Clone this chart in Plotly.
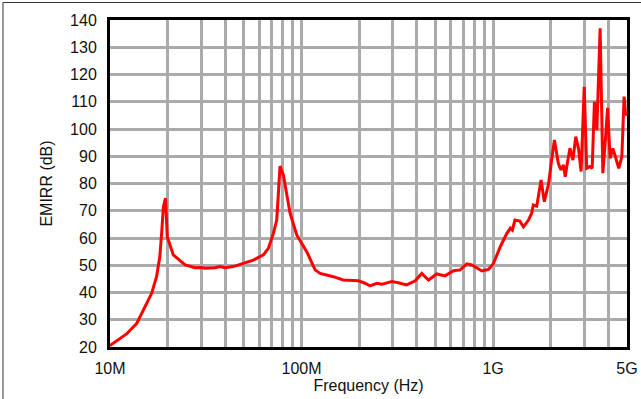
import plotly.graph_objects as go
import math

freq_hz = [10e6, 11.05e6, 12.2e6, 13.8e6, 15.2e6, 16.5e6, 17.5e6, 18.2e6, 18.6e6, 19.0e6,
           19.5e6, 19.9e6, 21.4e6, 24.7e6, 27.8e6, 30.1e6, 31.3e6, 35.3e6, 37.5e6, 39.8e6,
           44e6, 49.7e6, 56e6, 63.2e6, 67.1e6, 71.3e6, 74.2e6, 75.7e6, 77.2e6, 80.4e6,
           83.7e6, 87.1e6, 94.4e6, 106.4e6, 117.7e6, 125e6, 146.7e6, 165e6, 198e6, 214.6e6,
           228e6, 247e6, 262e6, 296e6, 320e6, 354e6, 392e6, 424e6, 460e6, 508e6,
           561e6, 621e6, 673e6, 729e6, 774e6, 874e6, 946e6, 1.005e9, 1.09e9, 1.18e9,
           1.23e9, 1.26e9, 1.30e9, 1.38e9, 1.44e9, 1.53e9, 1.59e9, 1.62e9, 1.69e9, 1.78e9,
           1.85e9, 1.95e9, 2.02e9, 2.09e9, 2.19e9, 2.26e9, 2.33e9, 2.38e9, 2.44e9, 2.52e9,
           2.61e9, 2.70e9, 2.79e9, 2.88e9, 2.99e9, 3.08e9, 3.19e9, 3.29e9, 3.38e9, 3.48e9,
           3.62e9, 3.74e9, 3.85e9, 3.96e9, 4.08e9, 4.22e9, 4.35e9, 4.53e9, 4.70e9, 4.83e9,
           4.91e9, 5.0e9]

emirr_db = [20.5, 22.6, 24.8, 28.7, 34.8, 39.7, 45.8, 53.1, 61.7, 71.5,
            74.6, 60.5, 53.8, 50.1, 49.1, 49.2, 48.9, 49.1, 49.5, 49.1,
            49.5, 50.7, 51.9, 53.8, 56.2, 61.7, 66.6, 76.4, 86.4, 83.1,
            76.4, 69.1, 61.1, 55.0, 48.3, 47.0, 45.8, 44.6, 44.3, 43.4,
            42.4, 43.4, 43.0, 44.0, 43.6, 42.8, 44.3, 47.0, 44.6, 46.8,
            46.1, 48.0, 48.3, 50.5, 50.1, 47.9, 48.5, 50.7, 56.8, 61.7,
            63.6, 62.9, 66.6, 66.2, 64.1, 66.6, 69.1, 72.1, 71.7, 81.3,
            73.3, 80.1, 88.6, 96.0, 87.4, 85.0, 86.8, 82.5, 87.4, 92.9,
            88.6, 97.2, 92.9, 84.4, 115.5, 85.6, 86.2, 85.6, 110.0, 99.6,
            137.0, 83.8, 95.3, 107.8, 89.2, 92.9, 89.8, 85.6, 89.8, 111.9,
            105.7, 105.0]

grid_vals = [10e6, 20e6, 30e6, 40e6, 50e6, 60e6, 70e6, 80e6, 90e6,
             100e6, 200e6, 300e6, 400e6, 500e6, 600e6, 700e6, 800e6, 900e6,
             1e9, 2e9, 3e9, 4e9, 5e9]
grid_text = ["10M", "", "", "", "", "", "", "", "",
             "100M", "", "", "", "", "", "", "", "",
             "1G", "", "", "", "5G"]

y_ticks = [20, 30, 40, 50, 60, 70, 80, 90, 100, 110, 120, 130, 140]

fig = go.Figure()
fig.add_trace(go.Scatter(x=freq_hz, y=emirr_db, mode="lines",
                         line=dict(color="#ff0000", width=3), showlegend=False))

font_family = "Liberation Sans, Arial, sans-serif"
fig.update_layout(
    width=641, height=399,
    margin=dict(l=110, r=14, t=20, b=52),
    paper_bgcolor="white", plot_bgcolor="white",
    font=dict(family=font_family, size=16, color="#111111"),
    xaxis=dict(type="log", range=[7, math.log10(5e9)], automargin=False,
               tickmode="array", tickvals=grid_vals, ticktext=grid_text,
               showgrid=True, gridcolor="#aaaaaa", gridwidth=3,
               showline=True, linecolor="black", linewidth=3, mirror=True,
               ticks="outside", ticklen=5, tickcolor="rgba(0,0,0,0)",
               tickfont=dict(size=16),
               title=dict(text="Frequency (Hz)", font=dict(size=16), standoff=4),
               zeroline=False),
    yaxis=dict(range=[20, 140], tickmode="array", tickvals=y_ticks, automargin=False,
               showgrid=True, gridcolor="#aaaaaa", gridwidth=3,
               showline=True, linecolor="black", linewidth=3, mirror=True,
               ticks="outside", ticklen=7, tickcolor="rgba(0,0,0,0)",
               tickfont=dict(size=16),
               title=dict(text="EMIRR (dB)", font=dict(size=16), standoff=14),
               zeroline=False),
    shapes=[dict(type="rect", xref="paper", yref="paper",
                 x0=-0.2070, x1=1.05, y0=-0.20, y1=1.0536,
                 line=dict(color="#333333", width=1), layer="below")],
)

fig.write_html("out.html", config={"displayModeBar": False},
               post_script="document.body.style.margin='0px';")
